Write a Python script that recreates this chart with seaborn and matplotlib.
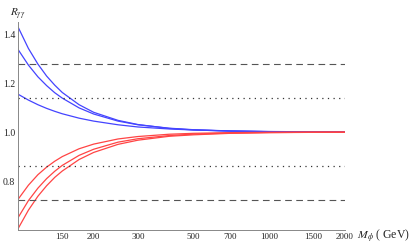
import numpy as np
import pandas as pd
import seaborn as sns
import matplotlib.pyplot as plt
from matplotlib.ticker import FixedLocator, NullFormatter

# Masses (GeV) and R_gamma_gamma values
mass = [100, 110, 120, 130, 140, 150, 175, 200, 250, 300, 400, 500, 700, 1000, 1500, 2000]

blue_1 = [1.430, 1.342, 1.278, 1.229, 1.192, 1.162, 1.112, 1.081, 1.048, 1.031, 1.015, 1.009, 1.004, 1.0017, 1.0006, 1.0003]
blue_2 = [1.338, 1.274, 1.226, 1.190, 1.161, 1.139, 1.099, 1.074, 1.045, 1.030, 1.016, 1.0098, 1.0047, 1.0021, 1.0009, 1.0005]
blue_3 = [1.155, 1.131, 1.112, 1.097, 1.085, 1.075, 1.057, 1.045, 1.030, 1.021, 1.0128, 1.0086, 1.0047, 1.0025, 1.0012, 1.0007]

red_1 = [0.725, 0.783, 0.826, 0.857, 0.881, 0.900, 0.932, 0.951, 0.972, 0.982, 0.9914, 0.9951, 0.9979, 0.9991, 0.9997, 0.9998]
red_2 = [0.650, 0.720, 0.771, 0.810, 0.840, 0.864, 0.905, 0.930, 0.959, 0.973, 0.986, 0.9918, 0.9962, 0.9984, 0.9994, 0.9997]
red_3 = [0.605, 0.681, 0.738, 0.781, 0.815, 0.841, 0.888, 0.917, 0.950, 0.967, 0.983, 0.989, 0.9951, 0.9978, 0.9991, 0.9995]

dashed_levels = [1.277, 0.722]
dotted_levels = [1.139, 0.861]

major_ticks = [150, 200, 300, 500, 700, 1000, 1500, 2000]
minor_ticks = [110, 120, 130, 140, 160, 170, 180, 190, 250, 400, 600, 800, 900,
               1100, 1200, 1300, 1400, 1600, 1700, 1800, 1900]

curves = {'b1': blue_1, 'b2': blue_2, 'b3': blue_3,
          'r1': red_1, 'r2': red_2, 'r3': red_3}
df = pd.concat([pd.DataFrame({'M': mass, 'R': v, 'curve': k}) for k, v in curves.items()])
palette = {'b1': '#4444ff', 'b2': '#4444ff', 'b3': '#4444ff',
           'r1': '#ff4444', 'r2': '#ff4444', 'r3': '#ff4444'}

sns.set_style("white")
plt.rcParams['font.family'] = ['Liberation Serif', 'DejaVu Serif']
plt.rcParams['mathtext.fontset'] = 'stix'

fig = plt.figure(figsize=(4.15, 2.44), dpi=100)
ax = fig.add_axes([18 / 415, 1 - 230 / 244, (345 - 18) / 415, (230 - 22) / 244])

sns.lineplot(data=df, x='M', y='R', hue='curve', palette=palette,
             linewidth=0.9, legend=False, ax=ax, sort=True)

for lv in dashed_levels:
    ax.axhline(lv, color='#555555', lw=0.8, ls=(0, (6, 4)))
for lv in dotted_levels:
    ax.axhline(lv, color='#333333', lw=0.9, ls=(0, (1, 3.5)))

ax.set_xscale('log')
ax.set_xlim(100, 2000)
ax.set_ylim(0.6, 1.45)

ax.xaxis.set_major_locator(FixedLocator(major_ticks))
ax.set_xticklabels([str(t) for t in major_ticks])
ax.xaxis.set_minor_locator(FixedLocator(minor_ticks))
ax.xaxis.set_minor_formatter(NullFormatter())
ax.set_yticks([0.8, 1.0, 1.2, 1.4])
ax.set_yticklabels(['0.8', '1.0', '1.2', '1.4'])
ax.yaxis.set_minor_locator(FixedLocator(np.arange(0.6, 1.46, 0.05)))

ax.tick_params(which='major', direction='in', length=4, width=0.6, color='#888888',
               labelsize=7, pad=2)
ax.tick_params(axis='x', which='major', labelsize=6.5)
ax.tick_params(which='minor', direction='in', length=2, width=0.5, color='#888888')

for s in ['top', 'right']:
    ax.spines[s].set_visible(False)
for s in ['left', 'bottom']:
    ax.spines[s].set_color('#888888')
    ax.spines[s].set_linewidth(0.7)

ax.set_xlabel('')
ax.set_ylabel('')
fig.text(10 / 415, 1 - 14 / 244, r'$R_{\gamma\gamma}$', fontsize=8, va='center', ha='left')
fig.text(357 / 415, 1 - 236 / 244, r'$M_{\phi}$ ( GeV)', fontsize=8.5, va='center', ha='left')

fig.savefig('out.png', dpi=100)
